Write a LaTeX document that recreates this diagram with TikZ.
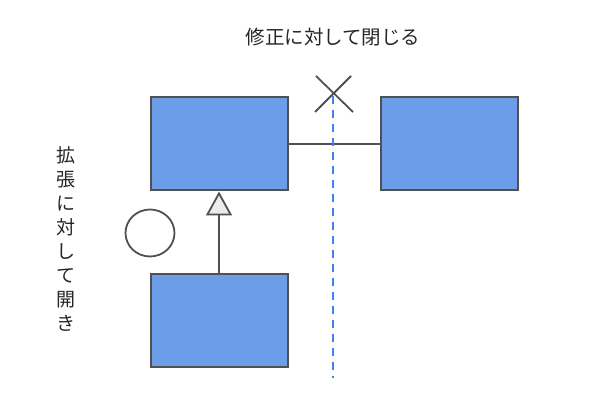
\documentclass[tikz,border=0pt]{standalone}
\usepackage{fontspec}
\usetikzlibrary{arrows.meta,shapes.geometric}
\newfontfamily\cjk{Noto Sans CJK JP}
\definecolor{boxfill}{RGB}{108,157,232}
\definecolor{edge}{RGB}{80,80,80}
\definecolor{dashblue}{RGB}{60,130,240}
\definecolor{trifill}{RGB}{236,236,236}
\begin{document}
\begin{tikzpicture}[x=1pt,y=-1pt,
  cls/.style={draw=edge,fill=boxfill,line width=2pt,minimum width=137pt,minimum height=93pt,inner sep=0pt},
  lbl/.style={font=\cjk\fontsize{19.5}{22}\selectfont,text=black!85,inner sep=0pt},
  conn/.style={draw=edge,line width=1.8pt}]
\useasboundingbox (0,0) rectangle (600,419);
\node[cls] (a) at (219,144) {};
\node[cls] (b) at (449,144) {};
\node[cls] (c) at (219,321) {};
\draw[conn] (a.east) -- (b.west);
\draw[conn,-{Triangle[length=24pt,width=26pt,fill=trifill]}] (c.north) -- (a.south);
\node[draw=edge,line width=1.8pt,ellipse,minimum width=49pt,minimum height=47pt,inner sep=0pt] (o) at (150,233) {};
\coordinate (dtop) at (333,96);
\coordinate (dbot) at (333,378);
\draw[dashblue,line width=1.8pt,dash pattern=on 8pt off 6pt] (dtop) -- (dbot);
\coordinate (x1) at (316,76);
\coordinate (x2) at (353,112);
\coordinate (x3) at (351,76);
\coordinate (x4) at (315,112);
\draw[conn] (x1) -- (x2);
\draw[conn] (x3) -- (x4);
\node[lbl] (t) at (333,37) {修正に対して閉じる};
\node[lbl,align=center,font=\cjk\fontsize{19}{24}\selectfont] (v) at (66,239) {拡\\張\\に\\対\\し\\て\\開\\き};
\end{tikzpicture}
\end{document}
